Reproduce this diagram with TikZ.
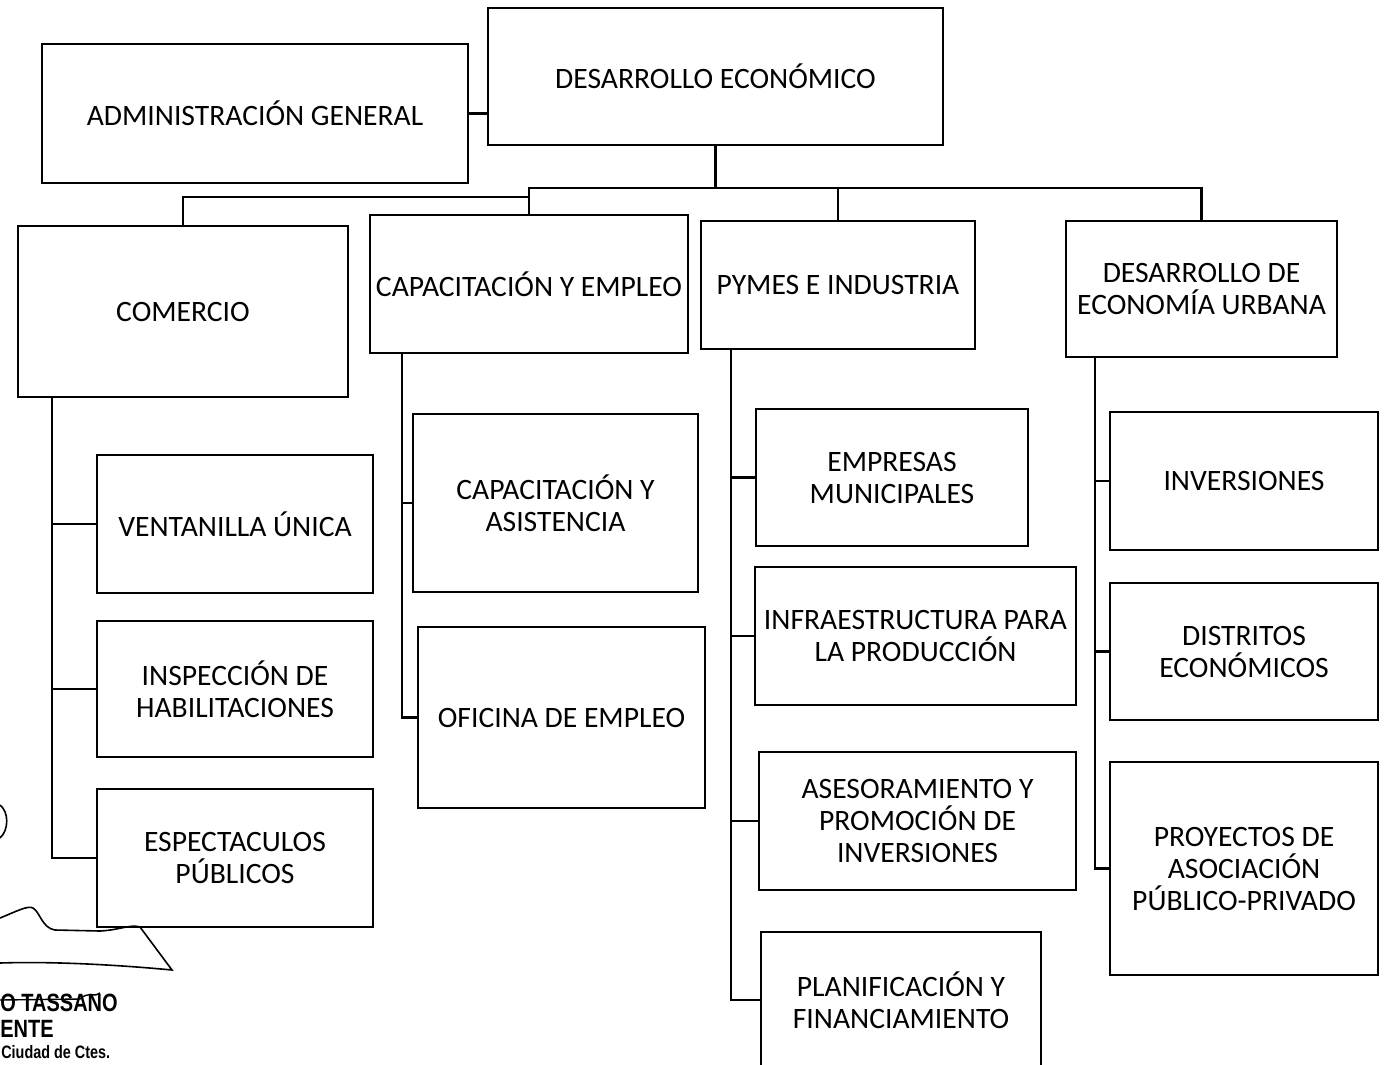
\documentclass[tikz,border=0pt]{standalone}
\usepackage{fontspec}
\setmainfont{Carlito}
\newfontfamily\firmafont{Liberation Sans}
\usetikzlibrary{calc}

\begin{document}
\begin{tikzpicture}[x=0.5pt,y=-0.5pt,
  caja/.style={draw,line width=1.1pt,align=center,inner sep=1pt,font=\fontsize{14.8}{16}\selectfont},
  linea/.style={line width=1.1pt},
  firma/.style={anchor=base west,inner sep=0pt,transform shape,xscale=0.8}]
\useasboundingbox (0,0) rectangle (1384,1064);
\node[caja,minimum width=227.5pt,minimum height=68.5pt](deco)at(715.5,76.5){DESARROLLO ECONÓMICO};
\node[caja,minimum width=213pt,minimum height=69.5pt](admin)at(255,113.5){ADMINISTRACIÓN GENERAL};
\node[caja,minimum width=165pt,minimum height=85.5pt](com)at(183,311.5){COMERCIO};
\node[caja,minimum width=159pt,minimum height=69pt](cap)at(529,284){CAPACITACIÓN Y EMPLEO};
\node[caja,minimum width=137pt,minimum height=64pt](pym)at(838,285){PYMES E INDUSTRIA};
\node[caja,minimum width=135.5pt,minimum height=68pt](deu)at(1201.5,289){DESARROLLO DE\\ECONOMÍA URBANA};
\node[caja,minimum width=138pt,minimum height=69pt](ven)at(235,524){VENTANILLA ÚNICA};
\node[caja,minimum width=138pt,minimum height=68pt](insp)at(235,689){INSPECCIÓN DE\\HABILITACIONES};
\node[caja,minimum width=138pt,minimum height=69pt](esp)at(235,858){ESPECTACULOS\\PÚBLICOS};
\node[caja,minimum width=142.5pt,minimum height=89pt](casi)at(555.5,503){CAPACITACIÓN Y\\ASISTENCIA};
\node[caja,minimum width=143.5pt,minimum height=90.5pt](ofi)at(561.5,717.5){OFICINA DE EMPLEO};
\node[caja,minimum width=136pt,minimum height=68.5pt](emp)at(892,477.5){EMPRESAS\\MUNICIPALES};
\node[caja,minimum width=160.5pt,minimum height=69pt](infra)at(915.5,636){INFRAESTRUCTURA PARA\\LA PRODUCCIÓN};
\node[caja,minimum width=158.5pt,minimum height=69pt](ases)at(917.5,821){ASESORAMIENTO Y\\PROMOCIÓN DE\\INVERSIONES};
\node[caja,minimum width=140pt,minimum height=68pt](plan)at(901,1000){PLANIFICACIÓN Y\\FINANCIAMIENTO};
\node[caja,minimum width=134pt,minimum height=69pt](inv)at(1244,481){INVERSIONES};
\node[caja,minimum width=134pt,minimum height=68.5pt](dis)at(1244,651.5){DISTRITOS\\ECONÓMICOS};
\node[caja,minimum width=134pt,minimum height=106.5pt](proy)at(1244,868.5){PROYECTOS DE\\ASOCIACIÓN\\PÚBLICO-PRIVADO};
\coordinate (bus) at (717,188);
\coordinate (lbus) at (183,197);
\coordinate (cspine) at (52,397);
\coordinate (capspine) at (402,353);
\coordinate (pspine) at (731,349);
\coordinate (dspine) at (1095,357);
\draw[linea] (admin.east) -- (admin.east -| deco.west);
\draw[linea] (deco.south) -- (deco.south |- bus);
\draw[linea] (cap.north) -- (cap.north |- bus) -- (deu.north |- bus) -- (deu.north);
\draw[linea] (pym.north) -- (pym.north |- bus);
\draw[linea] (cap.north |- lbus) -- (com.north |- lbus) -- (com.north);
\draw[linea] (cspine) |- (esp.west);
\draw[linea] (cspine |- ven.west) -- (ven.west);
\draw[linea] (cspine |- insp.west) -- (insp.west);
\draw[linea] (capspine) |- (ofi.west);
\draw[linea] (capspine |- casi.west) -- (casi.west);
\draw[linea] (pspine) |- (plan.west);
\draw[linea] (pspine |- emp.west) -- (emp.west);
\draw[linea] (pspine |- infra.west) -- (infra.west);
\draw[linea] (pspine |- ases.west) -- (ases.west);
\draw[linea] (dspine) |- (proy.west);
\draw[linea] (dspine |- inv.west) -- (inv.west);
\draw[linea] (dspine |- dis.west) -- (dis.west);
\draw[line width=0.8pt] (0,805) .. controls (9,812) and (9,830) .. (0,838);
\draw[line width=0.8pt] (0,918) .. controls (15,912) and (28,905) .. (33,908)
  .. controls (40,912) and (42,928) .. (55,930) -- (100,931)
  .. controls (120,930) and (130,924) .. (140,927) -- (172,970)
  .. controls (130,966) and (60,961) .. (0,963);
\node[firma,font=\firmafont\bfseries\fontsize{12.5}{14}\selectfont] (nom) at (0,1011) {O TASSANO};
\node[firma,font=\firmafont\bfseries\fontsize{12.5}{14}\selectfont] (cargo) at (0,1037) {ENTE};
\node[firma,font=\firmafont\bfseries\fontsize{9}{10}\selectfont] (ciud) at (1,1058) {Ciudad de Ctes.};
\draw[line width=0.7pt] (0,1000) -- (80,999) .. controls (88,991) and (95,998) .. (100,993);
\end{tikzpicture}
\end{document}
